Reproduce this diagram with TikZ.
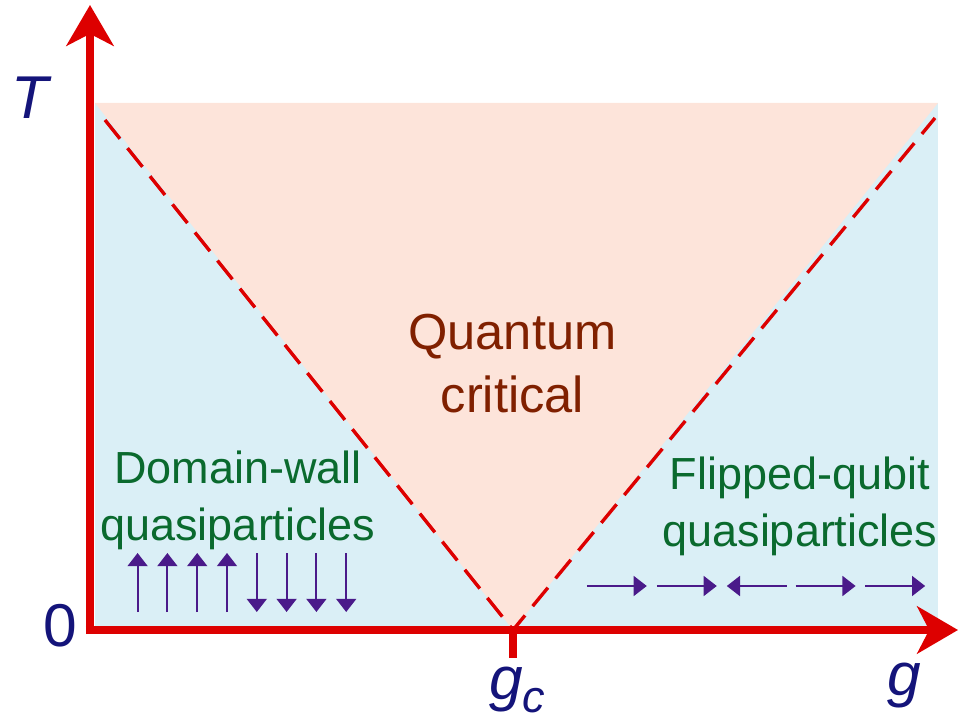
\documentclass[tikz,border=0pt]{standalone}
\usepackage{fontspec}
\setmainfont{Liberation Sans}
\usepackage{tikz}
\usetikzlibrary{arrows.meta, positioning}
\definecolor{AxisRed}{RGB}{221,0,0}
\definecolor{PhaseBlue}{RGB}{218,239,246}
\definecolor{PhaseSalmon}{RGB}{253,228,218}
\definecolor{CritBrown}{RGB}{128,32,0}
\definecolor{QpGreen}{RGB}{10,106,46}
\definecolor{SpinPurple}{RGB}{74,26,138}
\definecolor{LabelNavy}{RGB}{20,20,122}

\tikzset{
  axis/.style={AxisRed, line width=6pt, -{Stealth[length=1.02cm, width=1.18cm, inset=0.3cm]}},
  crossover/.style={AxisRed, line width=2.4pt, dash pattern=on 0.6cm off 0.3cm},
  spin/.style={SpinPurple, line width=1.4pt, -{Triangle[length=0.33cm, width=0.5cm]}},
  axislabel/.style={text=LabelNavy, font=\fontsize{43}{43}\selectfont\itshape, inner sep=0pt},
  regime/.style={align=center, inner sep=0pt}
}

\begin{document}
\begin{tikzpicture}
  \useasboundingbox (-2.25,-2.25) rectangle (21.725,15.75);

  \coordinate (O) at (0,0);
  \coordinate (gc) at (10.575,0);
  \coordinate (Tend) at (0,15.625);
  \coordinate (gend) at (21.7,0);
  \coordinate (tl) at (0.125,13.175);
  \coordinate (tr) at (21.2,13.175);

  % regimes
  \fill[PhaseBlue] (0.125,0) rectangle (tr);
  \fill[PhaseSalmon] (tl) -- (tr) -- (gc) -- cycle;

  % crossover lines
  \draw[crossover] (0.375,12.75) -- (gc) -- (21.125,12.8);

  % axes
  \draw[axis] (0,-0.1) -- (Tend);
  \draw[axis] (-0.1,0) -- (gend);
  \draw[AxisRed, line width=6pt] (gc) -- ++(0,-0.7);

  \node[axislabel] (Tlab) at (-1.5,13.3) {T};
  \node[axislabel, font=\fontsize{43}{43}\selectfont] (zero) at (-0.75,0.12) {0};
  \node[axislabel] (glab) at (20.35,-1.4) {g};
  \node[axislabel] (gclab) at (10.68,-1.5) {g\raisebox{-0.22em}{\fontsize{32}{32}\selectfont c}};

  % regime labels
  \node[regime, text=CritBrown, font=\fontsize{36}{44.8}\selectfont] (qc) at (10.56,6.65) {Quantum\\critical};
  \node[regime, text=QpGreen, font=\fontsize{32}{40.5}\selectfont] (dw) at (3.7,3.25) {Domain-wall\\quasiparticles};
  \node[regime, text=QpGreen, font=\fontsize{32}{40.5}\selectfont] (fq) at (17.75,3.1) {Flipped-qubit\\quasiparticles};

  % spins: ordered side
  \foreach \i in {0,...,3} {
    \draw[spin] ({1.19+0.745*\i},0.45) -- ({1.19+0.745*\i},1.925);
    \draw[spin] ({4.17+0.745*\i},1.925) -- ({4.17+0.745*\i},0.45);
  }

  % spins: paramagnetic side
  \foreach \x in {12.42,14.17,17.64,19.38}
    \draw[spin] (\x,1.1) -- ++(1.5,0);
  \draw[spin] (17.42,1.1) -- (15.92,1.1);
\end{tikzpicture}
\end{document}
